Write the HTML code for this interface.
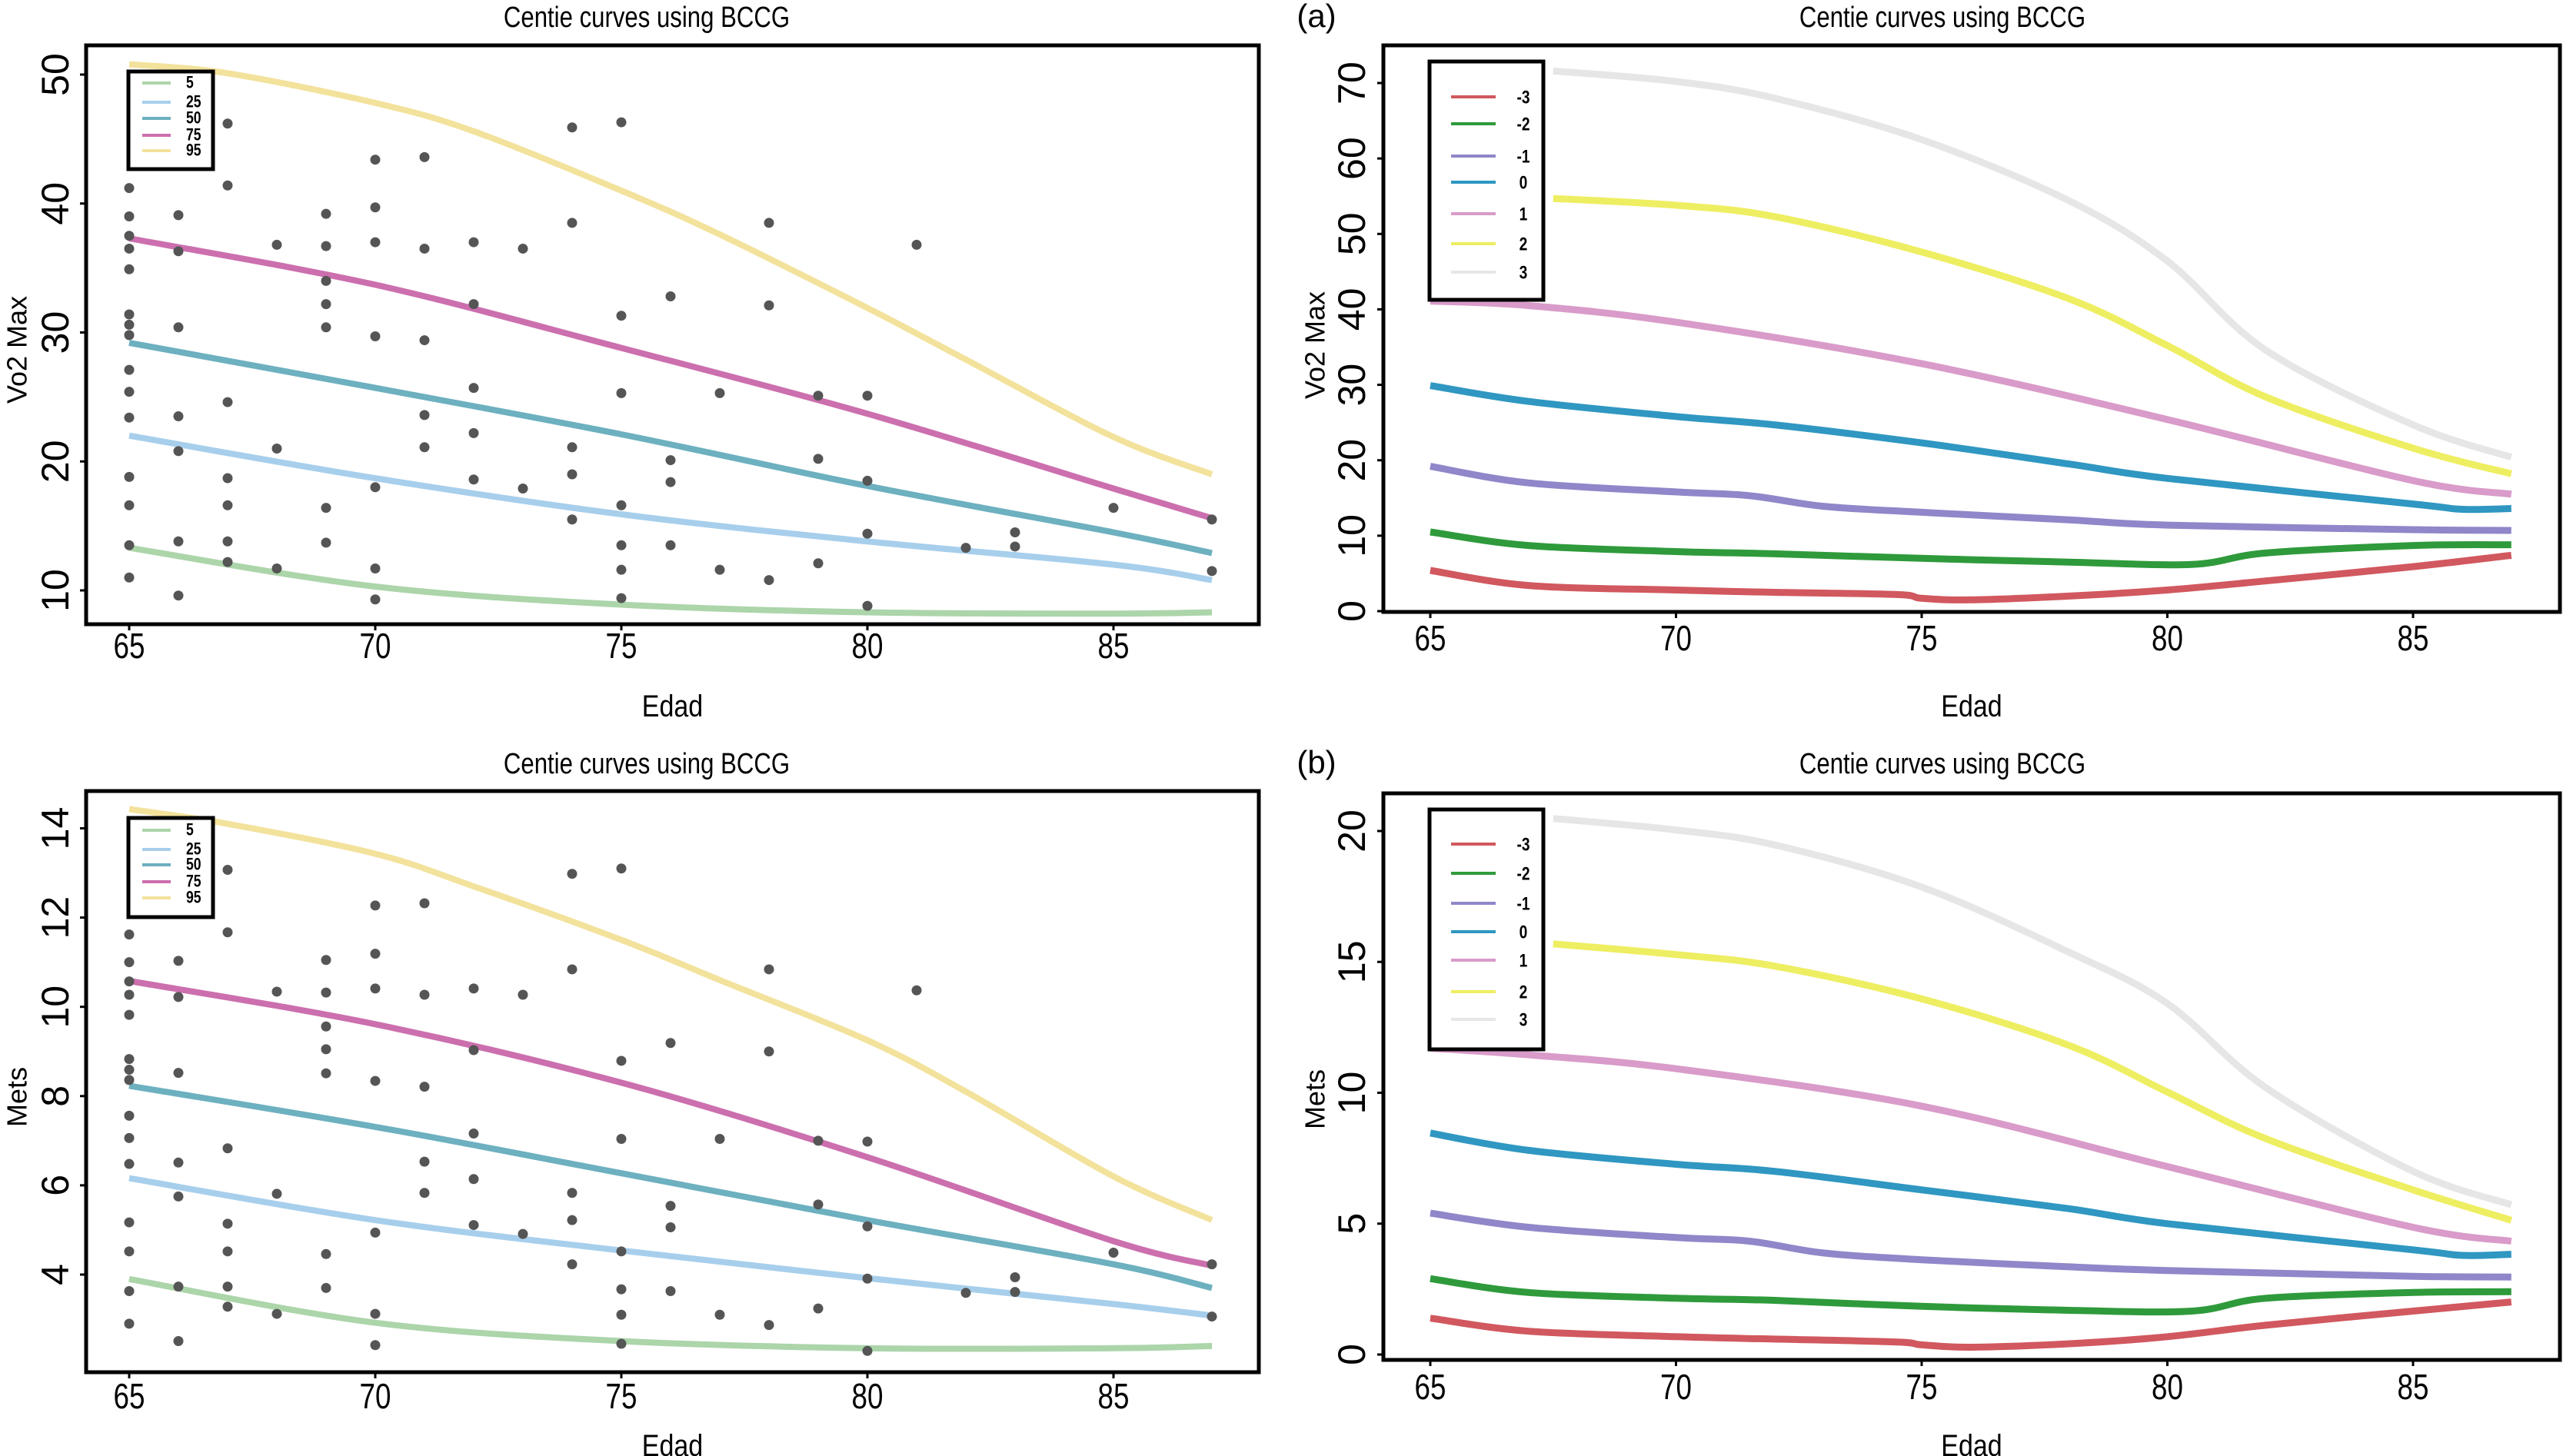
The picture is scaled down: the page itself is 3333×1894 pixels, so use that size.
<!DOCTYPE html>
<html><head><meta charset="utf-8">
<style>
html,body{margin:0;padding:0;background:#fff;}
svg{display:block;font-family:"Liberation Sans",sans-serif;}
</style></head>
<body>
<svg id="fig" width="3333" height="1894" viewBox="0 0 3333 1894" xmlns="http://www.w3.org/2000/svg"></svg>
<script>
// ---------- DATA ----------
const xTicks = [65,70,75,80,85];
const vo2Ticks = [10,20,30,40,50];
const metsTicks = [4,6,8,10,12,14];
const zVo2Ticks = [0,10,20,30,40,50,60,70];
const zMetsTicks = [0,5,10,15,20];

const pctLabels = ["5","25","50","75","95"];
const pctColors = ["#acd5aa","#a7cfec","#6db0c0","#cc6fae","#f3e29c"];
const zLabels = ["-3","-2","-1","0","1","2","3"];
const zColors = ["#d1585f","#2f9a3b","#8f87c9","#2f97c1","#d99bc9","#eeee62","#e6e6e6"];

// scatter Vo2 Max
const vo2X = [65,65,65,65,65,65,65,65,65,65,65,65,65,65,65,
66,66,66,66,66,66,66, 67,67,67,67,67,67,67, 68,68,68,
69,69,69,69,69,69,69, 70,70,70,70,70,70,70, 71,71,71,71,71,
72,72,72,72,72, 73,73, 74,74,74,74,74, 75,75,75,75,75,75,75,
76,76,76,76, 77,77, 78,78,78, 79,79,79, 80,80,80,80, 81, 82, 83,83, 85, 87,87];
const vo2Y = [41.2,39.0,37.5,36.5,34.9,31.4,30.6,29.8,27.1,25.4,23.4,18.8,16.6,13.5,11.0,
39.1,36.3,30.4,23.5,20.8,13.8,9.6, 46.2,41.4,24.6,18.7,16.6,13.8,12.2, 36.8,21.0,11.7,
39.2,36.7,34.0,32.2,30.4,16.4,13.7, 43.4,39.7,37.0,29.7,18.0,11.7,9.3, 43.6,36.5,29.4,23.6,21.1,
37.0,32.2,25.7,22.2,18.6, 36.5,17.9, 45.9,38.5,21.1,19.0,15.5, 46.3,31.3,25.3,16.6,13.5,11.6,9.4,
32.8,20.1,18.4,13.5, 25.3,11.6, 38.5,32.1,10.8, 25.1,20.2,12.1, 25.1,18.5,14.4,8.8, 36.8, 13.3, 14.5,13.4, 16.4, 15.5,11.5];
// scatter Mets
const metsX = vo2X.slice();
const metsY = [11.62,11.0,10.57,10.27,9.82,8.83,8.59,8.36,7.56,7.06,6.48,5.17,4.52,3.63,2.90,
11.03,10.22,8.52,6.51,5.75,3.73,2.51, 13.07,11.67,6.83,5.14,4.52,3.73,3.28, 10.34,5.81,3.12,
11.05,10.32,9.56,9.05,8.51,4.46,3.70, 12.27,11.19,10.41,8.34,4.94,3.12,2.42, 12.32,10.27,8.21,6.53,5.83,
10.41,9.03,7.16,6.14,5.11, 10.27,4.91, 12.98,10.84,5.83,5.22,4.23, 13.10,8.79,7.04,4.52,3.67,3.10,2.45,
9.19,5.54,5.06,3.63, 7.04,3.10, 10.84,9.0,2.87, 7.0,5.57,3.24, 6.98,5.08,3.91,2.29, 10.37, 3.59, 3.94,3.61, 4.49, 4.23,3.06];

// centile curves
const cAge = [65,70,75,80,85,87];
const cAge95 = [65,67,70,72,75,77,80,82,85,87];
const vo2P5  = [13.3,10.3,8.9,8.3,8.2,8.3];
const vo2P25 = [22.0,18.7,15.9,13.8,12.0,10.8];
const vo2P50 = [29.2,25.7,22.1,18.1,14.5,12.9];
const vo2P75 = [37.3,33.7,28.8,23.7,17.9,15.6];
const vo2P95 = [50.8,50.1,47.8,45.6,41.0,37.6,31.9,27.9,21.9,19.0];
const metsP5  = [3.9,2.92,2.51,2.35,2.35,2.4];
const metsP25 = [6.16,5.22,4.54,3.92,3.34,3.08];
const metsP50 = [8.23,7.31,6.27,5.22,4.23,3.7];
const metsP75 = [10.58,9.61,8.3,6.63,4.75,4.2];
const metsP95 = [14.43,14.1,13.43,12.7,11.5,10.6,9.25,8.1,6.2,5.22];

// z-score curves
const zAgeM3 = [65,67,70,72,74.5,75,76,78,80,82,85,87];
const vo2M3  = [5.4,3.4,2.8,2.5,2.2,1.7,1.5,2.0,2.8,4.0,5.9,7.4];
const metsM3 = [1.39,0.89,0.68,0.59,0.48,0.37,0.28,0.41,0.68,1.12,1.66,2.01];
const zAgeM2 = [65,67,70,72,75,78,80.5,82,85,87];
const vo2M2  = [10.5,8.7,7.9,7.6,7.0,6.5,6.2,7.7,8.7,8.8];
const metsM2 = [2.9,2.37,2.15,2.07,1.84,1.69,1.66,2.15,2.37,2.4];
const zAgeM1 = [65,67,70,71.5,73,75,78,80,85,87];
const vo2M1  = [19.2,17.0,15.8,15.3,13.9,13.1,12.1,11.4,10.8,10.7];
const metsM1 = [5.4,4.86,4.47,4.33,3.88,3.62,3.35,3.21,2.99,2.96];
const zAge0 = [65,67,70,72,75,78,80,85,86,87];
const vo2Z0  = [29.9,27.8,25.8,24.7,22.3,19.5,17.6,14.2,13.5,13.6];
const metsZ0 = [8.46,7.8,7.27,7.0,6.29,5.57,5.0,4.0,3.79,3.83];
const zAge1 = [65,67,70,75,80,85,87];
const vo2Z1  = [41.1,40.5,38.3,32.8,25.4,17.3,15.5];
const metsZ1 = [11.7,11.45,10.92,9.49,7.18,4.86,4.33];
const zAge2 = [67.5,70,72,75,78,80,82,85,87];
const vo2Z2  = [54.7,53.8,52.3,47.6,41.4,35.2,28.4,21.6,18.2];
const metsZ2 = [15.69,15.28,14.84,13.59,11.81,10.03,8.25,6.29,5.13];
const zAge3 = [67.5,70,72,75,78,80,82,85,87];
const vo2Z3  = [71.6,70.2,68.0,62.5,54.4,46.4,34.6,24.7,20.4];
const metsZ3 = [20.48,20.04,19.47,17.86,15.37,13.41,10.2,7.0,5.72];

// ---------- DRAWING ----------
const NS = "http://www.w3.org/2000/svg";
const svg = document.getElementById("fig");
function mk(tag, attrs, parent){
  const e = document.createElementNS(NS, tag);
  for (const k in attrs) e.setAttribute(k, attrs[k]);
  (parent||svg).appendChild(e);
  return e;
}
function lin(d0,d1,r0,r1){ return v => r0 + (v-d0)*(r1-r0)/(d1-d0); }
function smoothPath(pts){
  let d = "M"+pts[0][0].toFixed(1)+","+pts[0][1].toFixed(1);
  for (let i=0;i<pts.length-1;i++){
    const p0=pts[Math.max(0,i-1)], p1=pts[i], p2=pts[i+1], p3=pts[Math.min(pts.length-1,i+2)];
    const c1=[p1[0]+(p2[0]-p0[0])/6, p1[1]+(p2[1]-p0[1])/6];
    const c2=[p2[0]-(p3[0]-p1[0])/6, p2[1]-(p3[1]-p1[1])/6];
    d += " C"+c1[0].toFixed(1)+","+c1[1].toFixed(1)+" "+c2[0].toFixed(1)+","+c2[1].toFixed(1)+" "+p2[0].toFixed(1)+","+p2[1].toFixed(1);
  }
  return d;
}

function panel(cfg){
  const g = mk("g", {});
  
  
  const sx = lin(65, 85, cfg.x65, cfg.x85);
  const sy = lin(cfg.yd0, cfg.yd1, cfg.yr0, cfg.yr1);
  const t = mk("text", {x: cfg.tx, y: cfg.ty, "text-anchor":"middle", "font-size":38, transform:`translate(${cfg.tx},${cfg.ty}) scale(0.82,1) translate(${-cfg.tx},${-cfg.ty})`}, g);
  t.textContent = "Centie curves using BCCG";
  
  
  if (cfg.tag){
    const tg = mk("text", {x: cfg.tagx, y: cfg.ty, "text-anchor":"middle", "font-size":42}, g);
    tg.textContent = cfg.tag;
    
    
  }
  cfg.curves.forEach((c,i)=>{
    const pts = c.xs.map((xv,j)=>[sx(xv), sy(c.ys[j])]);
    const p = mk("path", {d: smoothPath(pts), fill:"none", stroke:c.color, "stroke-width":cfg.lw, "stroke-linecap":"butt"}, g);
    
    
  });
  if (cfg.px){
    cfg.px.forEach((xv,i)=>{
      const c = mk("circle", {cx: sx(xv), cy: sy(cfg.py[i]), r: 6.5, fill:"#555"}, g);
      
      
    });
  }
  const b = cfg.box;
  const fr = mk("rect", {x:b[0], y:b[1], width:b[2]-b[0], height:b[3]-b[1], fill:"none", stroke:"#000", "stroke-width":5}, g);
  
  
  xTicks.forEach(v=>{
    const x = sx(v);
    mk("line", {x1:x, x2:x, y1:b[3], y2:b[3]+8, stroke:"#000", "stroke-width":3}, g);
    const tl = mk("text", {x:x, y:cfg.xly, "text-anchor":"middle", "font-size":46, transform:`translate(${x},${cfg.xly}) scale(0.8,1) translate(${-x},${-cfg.xly})`}, g);
    tl.textContent = v;
    
    
  });
  cfg.yticks.forEach(v=>{
    const y = sy(v);
    mk("line", {x1:b[0]-8, x2:b[0], y1:y, y2:y, stroke:"#000", "stroke-width":3}, g);
    const tl = mk("text", {x:cfg.ylx, y:y, "text-anchor":"middle", "font-size":50, "dominant-baseline":"central", transform:`rotate(-90 ${cfg.ylx} ${y})`}, g);
    tl.textContent = v;
    
    
  });
  const xt = mk("text", {x:(b[0]+b[2])/2, y:cfg.xty, "text-anchor":"middle", "font-size":40, transform:`translate(${(b[0]+b[2])/2},${cfg.xty}) scale(0.85,1) translate(${-(b[0]+b[2])/2},${-cfg.xty})`}, g);
  xt.textContent = "Edad";
  
  
  const yt = mk("text", {x:cfg.ytx, y:cfg.yty, "text-anchor":"middle", "font-size":36, "dominant-baseline":"central", transform:`rotate(-90 ${cfg.ytx} ${cfg.yty})`}, g);
  yt.textContent = cfg.ytitle;
  
  
  const L = cfg.leg;
  const lb = mk("rect", {x:L.x0, y:L.y0, width:L.x1-L.x0, height:L.y1-L.y0, fill:"#fff", stroke:"#000", "stroke-width":5}, g);
  
  
  cfg.curves.forEach((c,i)=>{
    const y = L.ys[i];
    const ln = mk("line", {x1:L.lx0, x2:L.lx1, y1:y, y2:y, stroke:c.color, "stroke-width":L.lw}, g);
    
    
    const tx = mk("text", {x:L.tx, y:y, "font-size":L.fs, "font-weight":"bold", "dominant-baseline":"central", "text-anchor":L.anchor, transform:`translate(${L.tx},${y}) scale(0.8,1) translate(${-L.tx},${-y})`}, g);
    tx.textContent = c.label;
    
    
  });
}

const pctLegTop = {x0:167,x1:277,y0:93,y1:220,ys:[108,133,154,176,196],lx0:185,lx1:222,tx:242,fs:22,lw:4,anchor:"start"};
const pctLegBot = {x0:167,x1:277,y0:1064,y1:1193,ys:[1080,1105,1125,1147,1168],lx0:185,lx1:222,tx:242,fs:22,lw:4,anchor:"start"};
const zLegTop = {x0:1859,x1:2007,y0:80,y1:390,ys:[126,161,203,237,278,317,354],lx0:1887,lx1:1945,tx:1981,fs:24,lw:4,anchor:"middle"};
const zLegBot = {x0:1859,x1:2007,y0:1053,y1:1365,ys:[1098,1136,1175,1212,1249,1290,1326],lx0:1887,lx1:1945,tx:1981,fs:24,lw:4,anchor:"middle"};

const vo2P = [vo2P5,vo2P25,vo2P50,vo2P75,vo2P95];
const metsP = [metsP5,metsP25,metsP50,metsP75,metsP95];
const pAges = [cAge,cAge,cAge,cAge,cAge95];
const zAges = [zAgeM3,zAgeM2,zAgeM1,zAge0,zAge1,zAge2,zAge3];
const vo2Z = [vo2M3,vo2M2,vo2M1,vo2Z0,vo2Z1,vo2Z2,vo2Z3];
const metsZ = [metsM3,metsM2,metsM1,metsZ0,metsZ1,metsZ2,metsZ3];

panel({name:"vo2-centile-panel", box:[112,59,1637,812], x65:168, x85:1448, yd0:10, yd1:50, yr0:768, yr1:97,
  tx:841, ty:35, lw:8, xly:856, xty:932, ylx:72, ytx:22, yty:455, ytitle:"Vo2 Max", yticks:vo2Ticks,
  curves: vo2P.map((ys,i)=>({xs:pAges[i], ys:ys, color:pctColors[i], label:pctLabels[i]})),
  px:vo2X, py:vo2Y, leg:pctLegTop});
panel({name:"mets-centile-panel", box:[112,1029,1637,1785], x65:168, x85:1448, yd0:4, yd1:14, yr0:1658, yr1:1077.5,
  tx:841, ty:1006, lw:8, xly:1832, xty:1894, ylx:72, ytx:22, yty:1427, ytitle:"Mets", yticks:metsTicks,
  curves: metsP.map((ys,i)=>({xs:pAges[i], ys:ys, color:pctColors[i], label:pctLabels[i]})),
  px:metsX, py:metsY, leg:pctLegBot});
panel({name:"vo2-zscore-panel", box:[1799,59,3329,796], x65:1860, x85:3138, yd0:0, yd1:70, yr0:795, yr1:108,
  tx:2526, ty:35, lw:9, xly:846, xty:932, ylx:1758, ytx:1710, yty:449, ytitle:"Vo2 Max", yticks:zVo2Ticks,
  tag:"(a)", tagx:1712,
  curves: vo2Z.map((ys,i)=>({xs:zAges[i], ys:ys, color:zColors[i], label:zLabels[i]})),
  leg:zLegTop});
panel({name:"mets-zscore-panel", box:[1799,1032,3329,1769], x65:1860, x85:3138, yd0:0, yd1:20, yr0:1762, yr1:1081,
  tx:2526, ty:1006, lw:9, xly:1820, xty:1894, ylx:1758, ytx:1710, yty:1430, ytitle:"Mets", yticks:zMetsTicks,
  tag:"(b)", tagx:1712,
  curves: metsZ.map((ys,i)=>({xs:zAges[i], ys:ys, color:zColors[i], label:zLabels[i]})),
  leg:zLegBot});
</script>
</body></html>
